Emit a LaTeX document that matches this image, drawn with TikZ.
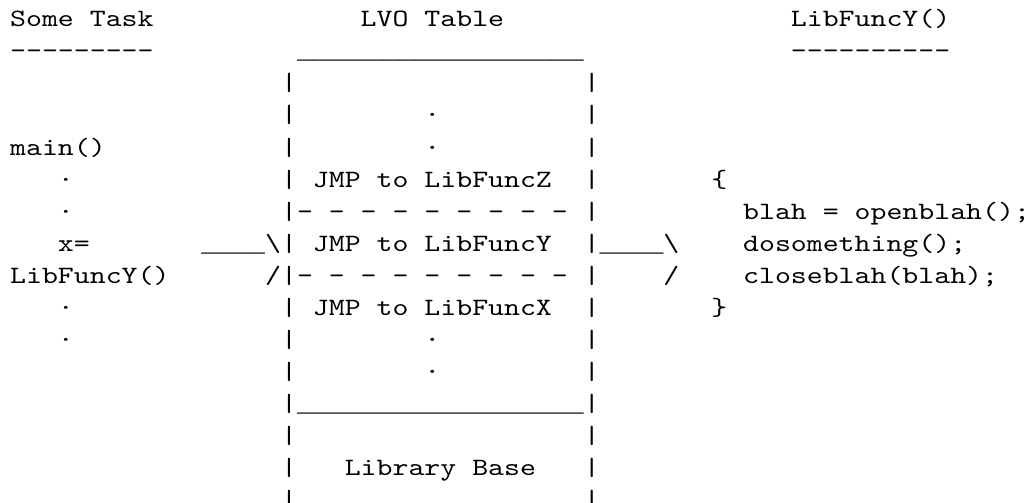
\documentclass[tikz,border=0pt]{standalone}
\usepackage{fontspec}
\setmonofont{lmmono10-regular.otf}[FakeStretch=1.2172]
\newfontfamily\barfont{Liberation Mono}[FakeStretch=1.0651]
\usepackage{tikz}

\begin{document}
\begin{tikzpicture}[x=11.95pt, y=-24pt,
    every node/.style={font=\ttfamily\fontsize{18.7}{24}\selectfont,
                       anchor=base west, inner sep=0pt, outer sep=0pt}]
\useasboundingbox (-0.640,-0.84375) rectangle (64.067,14.875);

% column heads
\node (task)     at (0,0)  {Some Task};
\node (taskrule) at (0,1)  {---------};
\node (lvo)      at (22,0) {LVO Table};
\node (lvotop)   at (18,1) {\barfont\_\_\_\_\_\_\_\_\_\_\_\_\_\_\_\_\_\_};
\node (func)     at (49,0) {LibFuncY()};
\node (funcrule) at (49,1) {----------};

% sides of the LVO table
\foreach \r in {2,...,15} {
  \node (lbar\r) at (17,\r) {|};
  \node (rbar\r) at (36,\r) {|};
}

% table entries
\node (dotA)   at (26,3)  {·};
\node (dotB)   at (26,4)  {·};
\node (jmpz)   at (19,5)  {JMP to LibFuncZ};
\node (sepzy)  at (18,6)  {- - - - - - - - -};
\node (jmpy)   at (19,7)  {JMP to LibFuncY};
\node (sepyx)  at (18,8)  {- - - - - - - - -};
\node (jmpx)   at (19,9)  {JMP to LibFuncX};
\node (dotC)   at (26,10) {·};
\node (dotD)   at (26,11) {·};
\node (libsep) at (18,12) {\barfont\_\_\_\_\_\_\_\_\_\_\_\_\_\_\_\_\_\_};
\node (libbase) at (21,14) {Library Base};

% the calling task
\node (main)  at (0,4)  {main()};
\node (tdotA) at (3,5)  {·};
\node (tdotB) at (3,6)  {·};
\node (xeq)   at (3,7)  {x=};
\node (call)  at (0,8)  {LibFuncY()};
\node (tdotC) at (3,9)  {·};
\node (tdotD) at (3,10) {·};

% arrows into and out of the table
\node (intop) at (12,7) {{\barfont\_\_\_\_}\textbackslash};
\node (inbot) at (16,8) {/};
\node (outtop) at (37,7) {{\barfont\_\_\_\_}\textbackslash};
\node (outbot) at (41,8) {/};

% body of LibFuncY()
\node (open)  at (44,5) {\{};
\node (bodyA) at (46,6) {blah = openblah();};
\node (bodyB) at (46,7) {dosomething();};
\node (bodyC) at (46,8) {closeblah(blah);};
\node (close) at (44,9) {\}};
\end{tikzpicture}
\end{document}
